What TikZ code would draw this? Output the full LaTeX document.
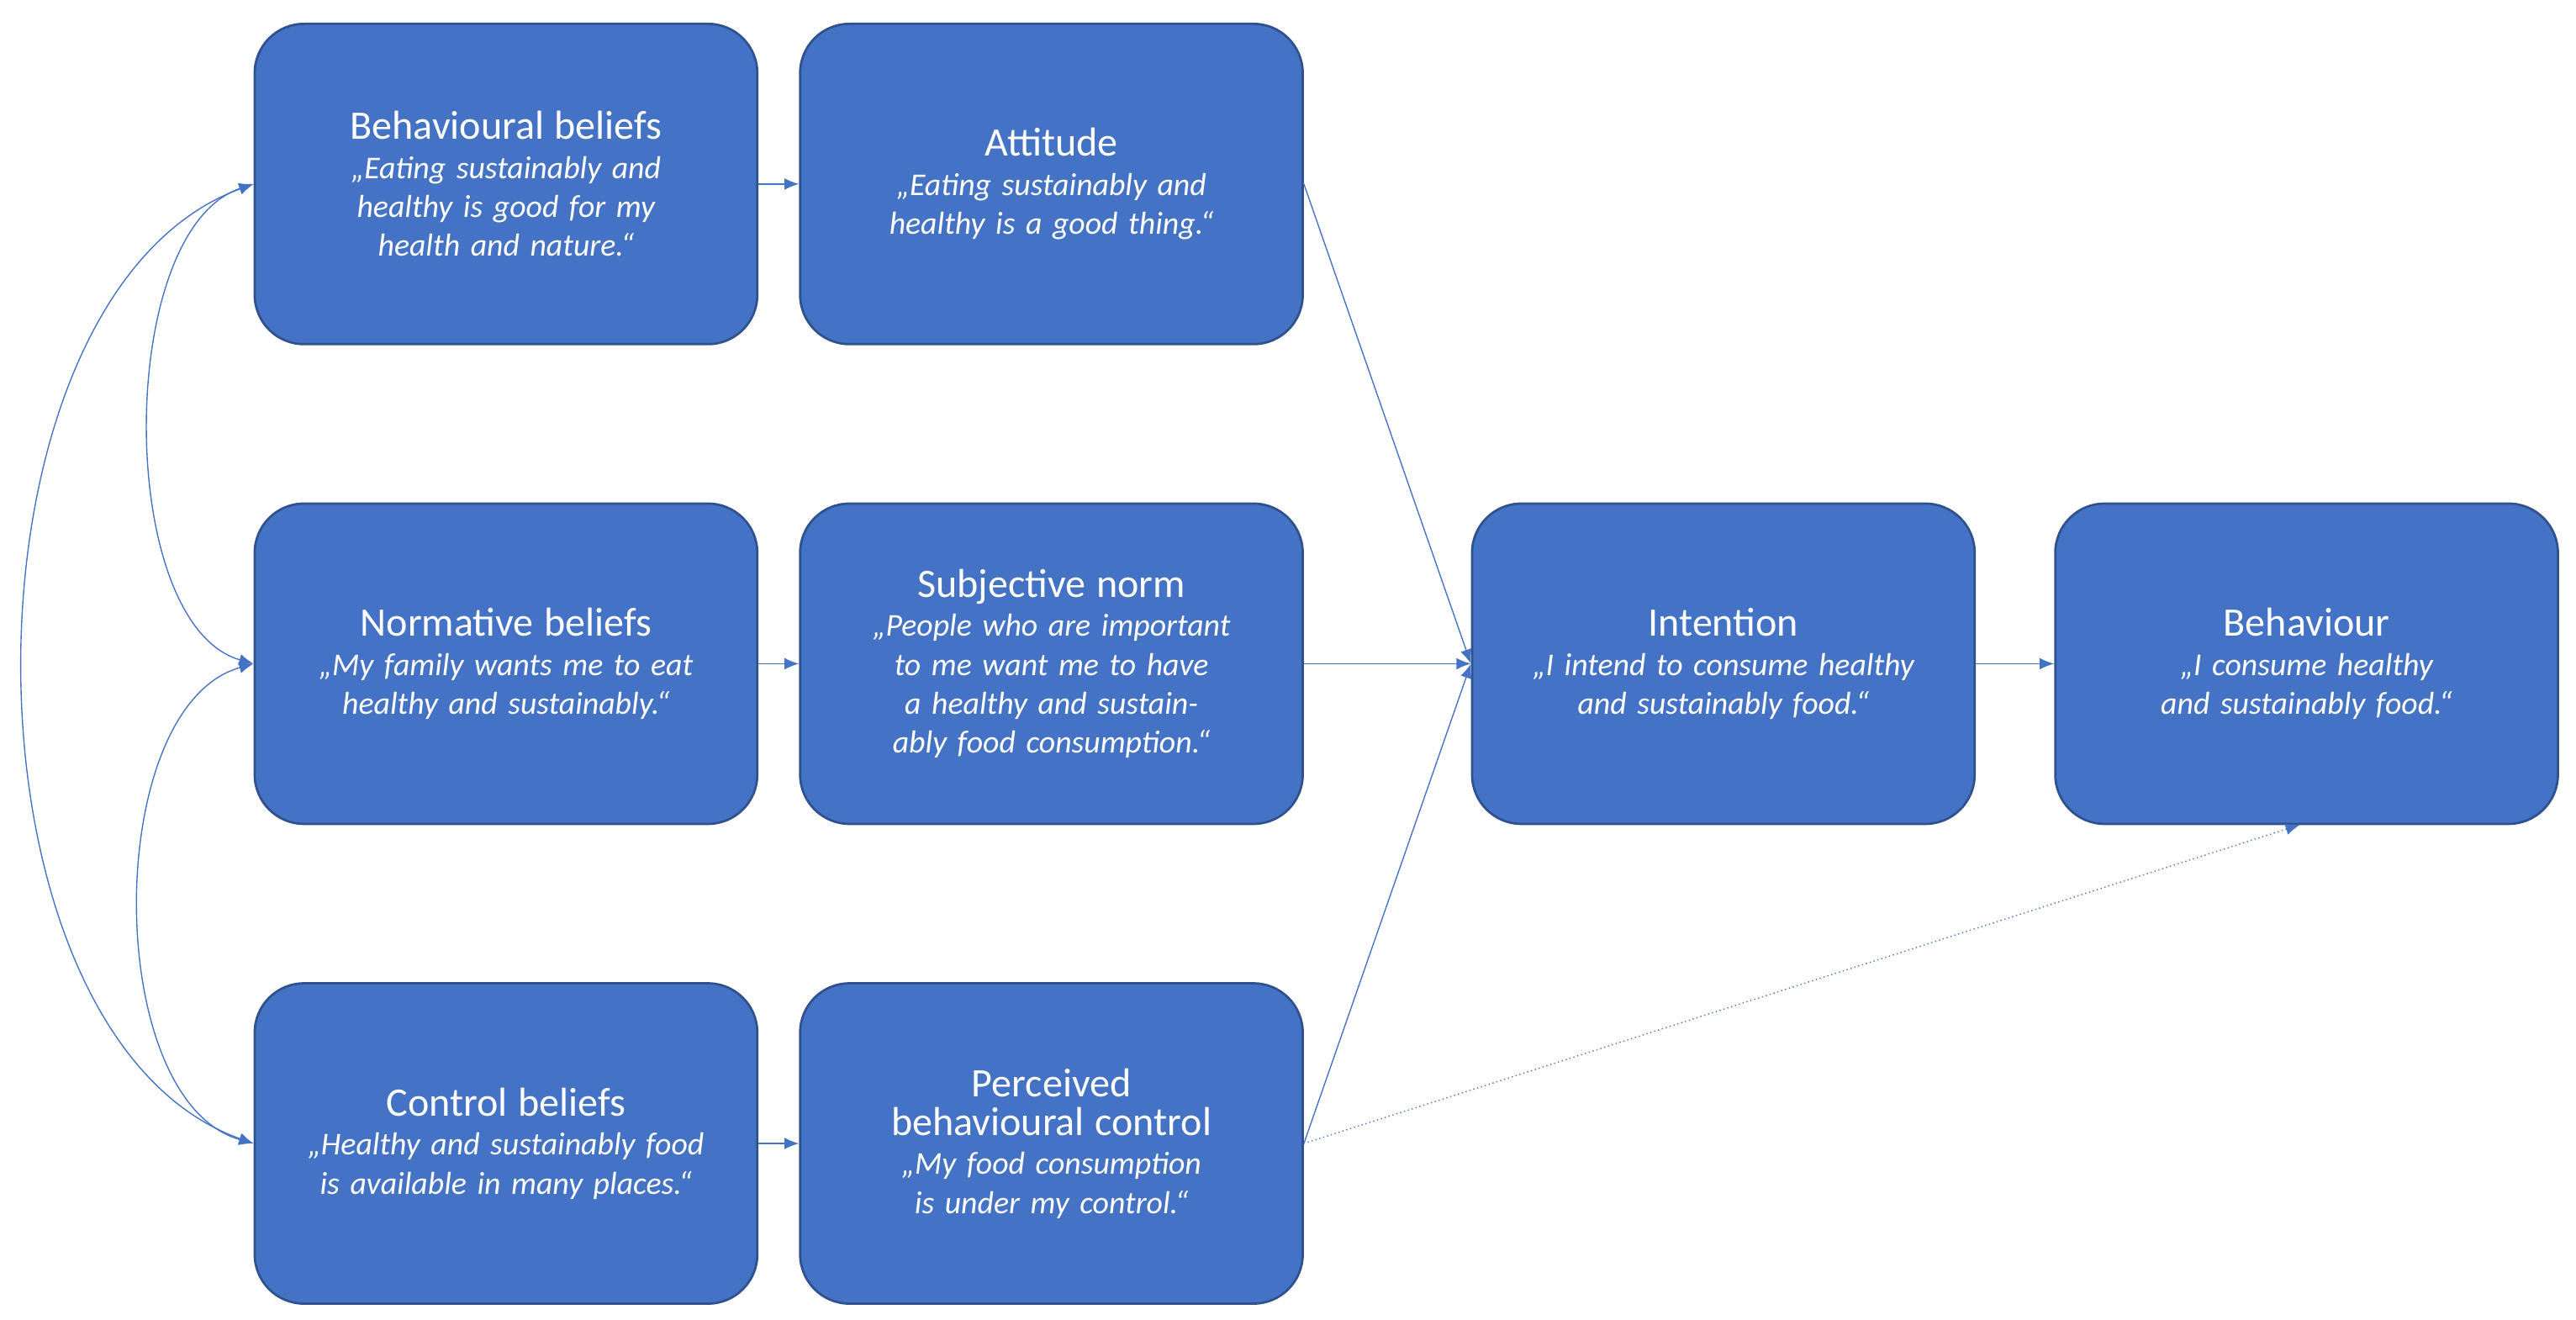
\documentclass[tikz,border=0pt]{standalone}
\usepackage{fontspec}
\setmainfont{Carlito}
\usetikzlibrary{arrows.meta}
\definecolor{boxblue}{HTML}{4472C4}
\definecolor{boxedge}{HTML}{2F528F}
\tikzset{
  box/.style={draw=boxedge, fill=boxblue, thick, rounded corners=0.6cm,
    minimum width=6.12cm, minimum height=3.9cm, text width=5.4cm,
    align=center, text=white, font=\fontsize{11}{13.5}\selectfont},
  link/.style={boxblue, -{Latex[length=5pt,width=4pt]}},
  both/.style={boxblue, {Latex[length=5pt,width=4pt]}-{Latex[length=5pt,width=4pt]}}
}
\newcommand{\ttl}[1]{{\fontsize{14}{16.5}\selectfont #1}\\}
\begin{document}
\begin{tikzpicture}[x=0.02cm, y=-0.02cm]
\useasboundingbox (0,0) rectangle (1568,803);
% first column
\node[box] (bb) at (308,112) {\ttl{Behavioural beliefs}\itshape „Eating sustainably and healthy is good for my health and nature.“};
\node[box] (nb) at (308,404) {\ttl{Normative beliefs}\itshape „My family wants me to eat healthy and sustainably.“};
\node[box] (cb) at (308,696) {\ttl{Control beliefs}\itshape „Healthy and sustainably food is available in many places.“};
% second column
\node[box] (att) at (640,112) {\ttl{Attitude}\itshape „Eating sustainably and healthy is a good thing.“};
\node[box] (sn) at (640,404) {\ttl{Subjective norm}\itshape „People who are important to me want me to have a healthy and sustainably food consumption.“};
\node[box] (pbc) at (640,696) {\ttl{Perceived\\behavioural control}\itshape „My food consumption is under my control.“};
% right side
\node[box] (int) at (1049,404) {\ttl{Intention}\itshape „I intend to consume healthy and sustainably food.“};
\node[box] (beh) at (1404,404) {\ttl{Behaviour}\itshape „I consume healthy and sustainably food.“};
\coordinate (behfoot) at (1400,502);
% connectors
\draw[link] (bb) -- (att);
\draw[link] (nb) -- (sn);
\draw[link] (cb) -- (pbc);
\draw[link] (att.east) -- (int.west);
\draw[link] (sn.east) -- (int.west);
\draw[link] (pbc.east) -- (int.west);
\draw[link] (int) -- (beh);
\draw[link, densely dotted] (pbc.east) -- (behfoot);
\draw[both] (bb.west) .. controls (70,140) and (70,380) .. (nb.west);
\draw[both] (bb.west) .. controls (-32,180) and (-32,630) .. (cb.west);
\draw[both] (nb.west) .. controls (62,430) and (62,670) .. (cb.west);
\end{tikzpicture}
\end{document}
